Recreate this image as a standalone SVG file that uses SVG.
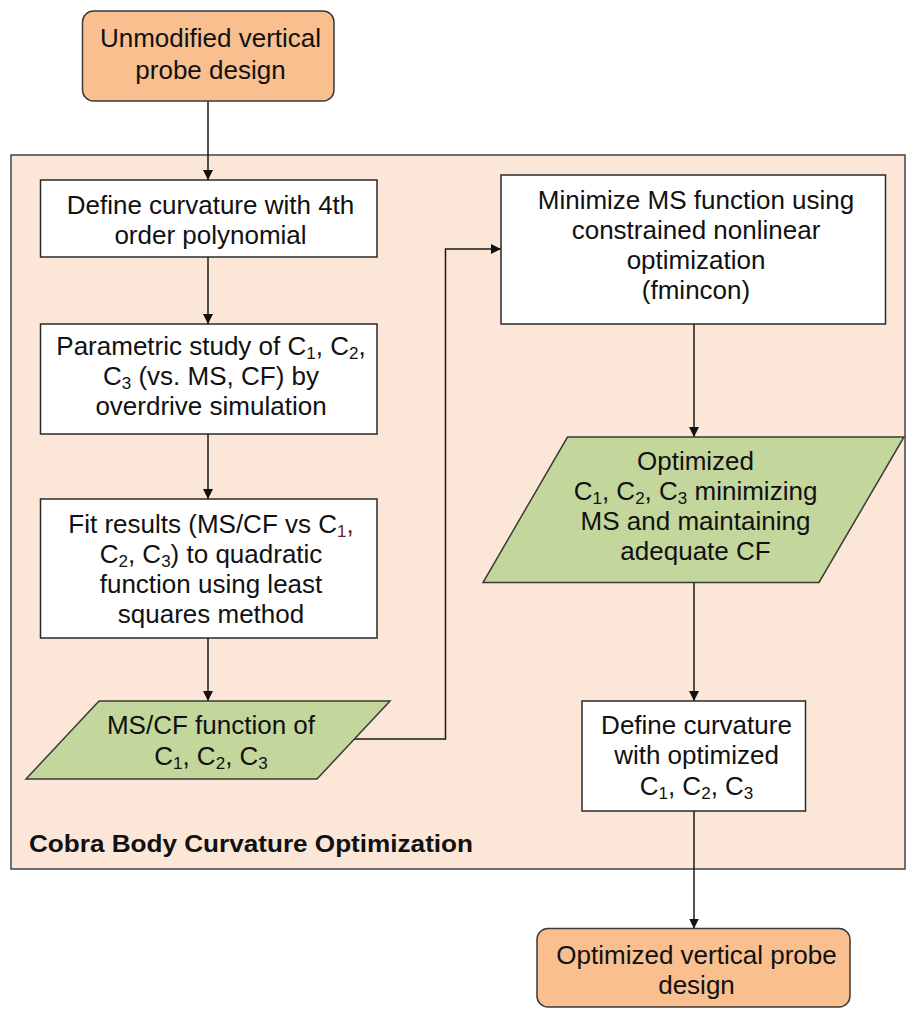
<svg xmlns="http://www.w3.org/2000/svg" width="906" height="1009" viewBox="0 0 906 1009">
<defs>
<style>
.t{font-family:"Liberation Sans",Arial,sans-serif;font-size:26px;fill:#111;text-anchor:middle}
.s{font-size:17px}
.term{fill:#F9BF8F;stroke:#3a3a3a;stroke-width:1.5}
.proc{fill:#ffffff;stroke:#2a2a2a;stroke-width:1.5}
.data{fill:#C3D69B;stroke:#3a3a3a;stroke-width:1.5}
.edge{fill:none;stroke:#1a1a1a;stroke-width:1.5}
</style>
<marker id="ah" viewBox="0 0 10 10" refX="10" refY="5" markerWidth="10" markerHeight="10" markerUnits="userSpaceOnUse" orient="auto">
<path d="M0,0 L10,5 L0,10 Z" fill="#111"/>
</marker>
</defs>
<rect width="906" height="1009" fill="#ffffff"/>
<g id="container">
<rect x="11" y="155" width="894" height="714" fill="#FCE6D8" stroke="#444" stroke-width="1.5"/>
<text x="29" y="852" style="font-family:'Liberation Sans',Arial,sans-serif;font-size:23.5px;font-weight:bold;fill:#111" textLength="444" lengthAdjust="spacingAndGlyphs">Cobra Body Curvature Optimization</text>
</g>
<g id="connectors">
<path class="edge" d="M208,101 V180" marker-end="url(#ah)"/>
<path class="edge" d="M208,257 V324" marker-end="url(#ah)"/>
<path class="edge" d="M208,434 V499" marker-end="url(#ah)"/>
<path class="edge" d="M208,638 V701" marker-end="url(#ah)"/>
<path class="edge" d="M353,739 H445.5 V249 H501" marker-end="url(#ah)"/>
<path class="edge" d="M694,324 V437" marker-end="url(#ah)"/>
<path class="edge" d="M694,582 V701" marker-end="url(#ah)"/>
<path class="edge" d="M694,811 V928.5" marker-end="url(#ah)"/>
</g>
<g id="n_start">
<rect class="term" x="82.5" y="11" width="251.5" height="90" rx="11"/>
<text class="t" x="210.5" y="47">Unmodified vertical</text>
<text class="t" x="210.5" y="78.5">probe design</text>
</g>
<g id="n_define">
<rect class="proc" x="40.5" y="180" width="336.5" height="77"/>
<text class="t" x="210.5" y="213.5">Define curvature with 4th</text>
<text class="t" x="210.5" y="244">order polynomial</text>
</g>
<g id="n_param">
<rect class="proc" x="40.5" y="324" width="336.5" height="110"/>
<text class="t" x="211" y="355">Parametric study of C<tspan class="s" dy="4">1</tspan><tspan dy="-4">, C</tspan><tspan class="s" dy="4">2</tspan><tspan dy="-4">,</tspan></text>
<text class="t" x="211" y="385">C<tspan class="s" dy="4">3</tspan><tspan dy="-4"> (vs. MS, CF) by</tspan></text>
<text class="t" x="211" y="415">overdrive simulation</text>
</g>
<g id="n_fit">
<rect class="proc" x="40.5" y="499" width="336.5" height="139"/>
<text class="t" x="211" y="532.5">Fit results (MS/CF vs C<tspan class="s" dy="4" fill="#6a2035">1</tspan><tspan dy="-4" fill="#6a2035">,</tspan></text>
<text class="t" x="211" y="562.5">C<tspan class="s" dy="4">2</tspan><tspan dy="-4">, C</tspan><tspan class="s" dy="4">3</tspan><tspan dy="-4">) to quadratic</tspan></text>
<text class="t" x="211" y="592.5">function using least</text>
<text class="t" x="211" y="622.5">squares method</text>
</g>
<g id="n_msfunc">
<polygon class="data" points="99,701 390,701 317,779 26,779"/>
<text class="t" x="211" y="734">MS/CF function of</text>
<text class="t" x="211" y="765">C<tspan class="s" dy="4">1</tspan><tspan dy="-4">, C</tspan><tspan class="s" dy="4">2</tspan><tspan dy="-4">, C</tspan><tspan class="s" dy="4">3</tspan></text>
</g>
<g id="n_minimize">
<rect class="proc" x="501" y="175" width="384.5" height="149"/>
<text class="t" x="696" y="209">Minimize MS function using</text>
<text class="t" x="696" y="238.5">constrained nonlinear</text>
<text class="t" x="696" y="268.5">optimization</text>
<text class="t" x="696" y="299">(fmincon)</text>
</g>
<g id="n_optimized">
<polygon class="data" points="567.5,437 904,437 819,582.5 483,582.5"/>
<text class="t" x="695.5" y="470">Optimized</text>
<text class="t" x="695.5" y="500">C<tspan class="s" dy="4">1</tspan><tspan dy="-4">, C</tspan><tspan class="s" dy="4">2</tspan><tspan dy="-4">, C</tspan><tspan class="s" dy="4">3</tspan><tspan dy="-4"> minimizing</tspan></text>
<text class="t" x="695.5" y="530">MS and maintaining</text>
<text class="t" x="695.5" y="559.5">adequate CF</text>
</g>
<g id="n_define2">
<rect class="proc" x="582" y="701" width="223.5" height="110"/>
<text class="t" x="696.5" y="734">Define curvature</text>
<text class="t" x="696.5" y="763.5">with optimized</text>
<text class="t" x="696.5" y="795">C<tspan class="s" dy="4">1</tspan><tspan dy="-4">, C</tspan><tspan class="s" dy="4">2</tspan><tspan dy="-4">, C</tspan><tspan class="s" dy="4">3</tspan></text>
</g>
<g id="n_end">
<rect class="term" x="537" y="928.5" width="313" height="78.5" rx="11"/>
<text class="t" x="696.5" y="963.5">Optimized vertical probe</text>
<text class="t" x="696.5" y="994">design</text>
</g>
</svg>
